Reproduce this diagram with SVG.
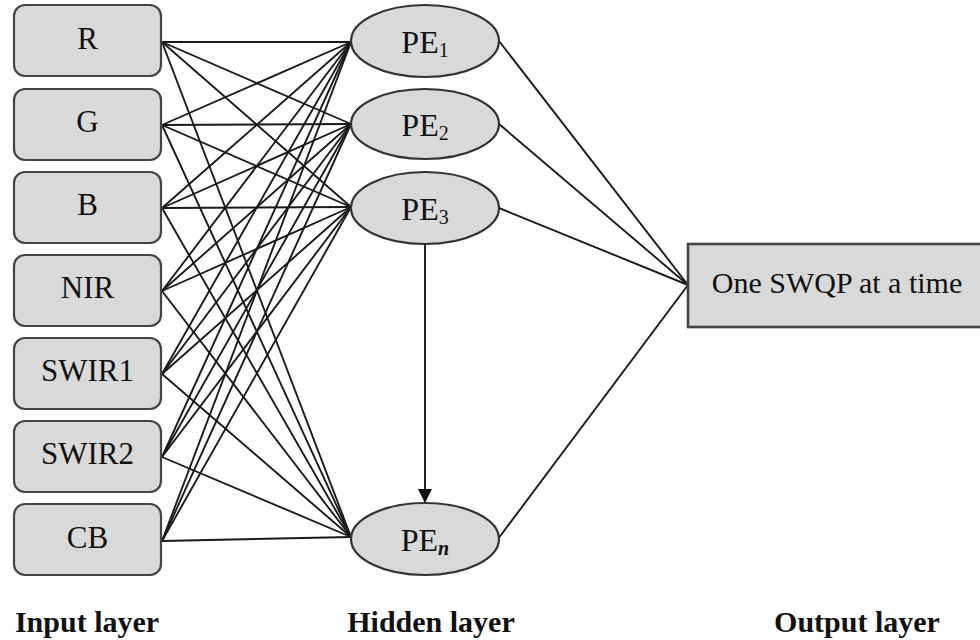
<svg xmlns="http://www.w3.org/2000/svg" width="980" height="640" viewBox="0 0 980 640">
  <style>
    .inbox { fill: #d9d9d9; stroke: #444; stroke-width: 2.2; }
    .pe { fill: #d9d9d9; stroke: #333; stroke-width: 2.2; }
    .out { fill: #d9d9d9; stroke: #444; stroke-width: 2.6; }
    .lbl { font-family: "Liberation Serif", "Times New Roman", serif; font-size: 31px; fill: #111; text-anchor: middle; }
    .pelbl { font-family: "Liberation Serif", "Times New Roman", serif; font-size: 32px; fill: #111; text-anchor: middle; }
    .sub { font-size: 20px; }
    .layer { font-family: "Liberation Serif", "Times New Roman", serif; font-size: 30px; font-weight: bold; fill: #111; text-anchor: middle; }
    .conn line { stroke: #1a1a1a; stroke-width: 1.9; fill: none; }
  </style>
  <defs>
    <marker id="arrow" viewBox="0 0 14 16" refX="14" refY="8" markerWidth="14" markerHeight="16" markerUnits="userSpaceOnUse" orient="auto">
      <path d="M0,1 L14,8 L0,15 Z" fill="#111"/>
    </marker>
  </defs>

  <!-- connectors -->
  <g id="connectors" class="conn">
    <!-- inputs to PE1 -->
    <line x1="162" y1="42" x2="351" y2="42"/>
    <line x1="162" y1="125" x2="351" y2="42"/>
    <line x1="162" y1="208" x2="351" y2="42"/>
    <line x1="162" y1="291" x2="351" y2="42"/>
    <line x1="162" y1="374" x2="351" y2="42"/>
    <line x1="162" y1="457" x2="351" y2="42"/>
    <line x1="162" y1="541" x2="351" y2="42"/>
    <!-- inputs to PE2 -->
    <line x1="162" y1="42" x2="351" y2="124"/>
    <line x1="162" y1="125" x2="351" y2="124"/>
    <line x1="162" y1="208" x2="351" y2="124"/>
    <line x1="162" y1="291" x2="351" y2="124"/>
    <line x1="162" y1="374" x2="351" y2="124"/>
    <line x1="162" y1="457" x2="351" y2="124"/>
    <line x1="162" y1="541" x2="351" y2="124"/>
    <!-- inputs to PE3 -->
    <line x1="162" y1="42" x2="351" y2="207"/>
    <line x1="162" y1="125" x2="351" y2="207"/>
    <line x1="162" y1="208" x2="351" y2="207"/>
    <line x1="162" y1="291" x2="351" y2="207"/>
    <line x1="162" y1="374" x2="351" y2="207"/>
    <line x1="162" y1="457" x2="351" y2="207"/>
    <line x1="162" y1="541" x2="351" y2="207"/>
    <!-- inputs to PEn -->
    <line x1="162" y1="42" x2="351" y2="537"/>
    <line x1="162" y1="125" x2="351" y2="537"/>
    <line x1="162" y1="208" x2="351" y2="537"/>
    <line x1="162" y1="291" x2="351" y2="537"/>
    <line x1="162" y1="374" x2="351" y2="537"/>
    <line x1="162" y1="457" x2="351" y2="537"/>
    <line x1="162" y1="541" x2="351" y2="537"/>
    <!-- hidden to output -->
    <line x1="499" y1="41" x2="688" y2="285"/>
    <line x1="499" y1="124" x2="688" y2="285"/>
    <line x1="499" y1="208" x2="688" y2="285"/>
    <line x1="498" y1="539" x2="688" y2="285"/>
    <!-- PE3 to PEn -->
    <line x1="425" y1="244" x2="425" y2="503" marker-end="url(#arrow)"/>
  </g>

  <!-- input layer -->
  <g id="in-R"><rect class="inbox" x="14" y="5" width="147" height="71" rx="11"/><text class="lbl" x="87.5" y="49">R</text></g>
  <g id="in-G"><rect class="inbox" x="14" y="89" width="147" height="71" rx="11"/><text class="lbl" x="87.5" y="132">G</text></g>
  <g id="in-B"><rect class="inbox" x="14" y="172" width="147" height="71" rx="11"/><text class="lbl" x="87.5" y="215">B</text></g>
  <g id="in-NIR"><rect class="inbox" x="14" y="255" width="147" height="71" rx="11"/><text class="lbl" x="87.5" y="298">NIR</text></g>
  <g id="in-SWIR1"><rect class="inbox" x="14" y="338" width="147" height="71" rx="11"/><text class="lbl" x="87.5" y="381">SWIR1</text></g>
  <g id="in-SWIR2"><rect class="inbox" x="14" y="421" width="147" height="71" rx="11"/><text class="lbl" x="87.5" y="464">SWIR2</text></g>
  <g id="in-CB"><rect class="inbox" x="14" y="504" width="147" height="71" rx="11"/><text class="lbl" x="87.5" y="548">CB</text></g>

  <!-- hidden layer -->
  <g id="pe1"><ellipse class="pe" cx="425" cy="41" rx="74" ry="36"/><text class="pelbl" x="425" y="53">PE<tspan class="sub" dy="4">1</tspan></text></g>
  <g id="pe2"><ellipse class="pe" cx="425" cy="124" rx="74" ry="35"/><text class="pelbl" x="425" y="136">PE<tspan class="sub" dy="4">2</tspan></text></g>
  <g id="pe3"><ellipse class="pe" cx="425" cy="208" rx="74" ry="36"/><text class="pelbl" x="425" y="220">PE<tspan class="sub" dy="4">3</tspan></text></g>
  <g id="pen"><ellipse class="pe" cx="425" cy="539" rx="74" ry="36"/><text class="pelbl" x="425" y="551">PE<tspan class="sub" dy="4" font-style="italic" font-weight="bold">n</tspan></text></g>

  <!-- output layer -->
  <g id="output"><rect class="out" x="688" y="244" width="310" height="83"/><text class="lbl" x="837" y="293" style="font-size:30px">One SWQP at a time</text></g>

  <!-- layer captions -->
  <text class="layer" x="87" y="632">Input layer</text>
  <text class="layer" x="431" y="632">Hidden layer</text>
  <text class="layer" x="857" y="632">Output layer</text>
</svg>
